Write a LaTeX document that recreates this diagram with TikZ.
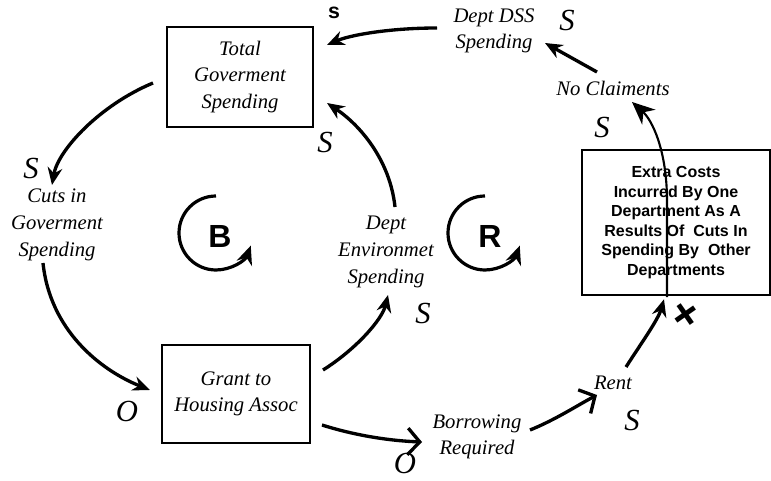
\documentclass[tikz,border=0pt]{standalone}
\usepackage{fontspec}
\setmainfont{Liberation Serif}
\newfontfamily\boxfont{Liberation Sans}
\usetikzlibrary{arrows.meta,calc}
\begin{document}
\begin{tikzpicture}[x=0.75pt,y=-0.75pt,
  lbl/.style={font=\fontsize{15.5}{20}\selectfont\itshape, align=center, inner sep=0pt},
  pol/.style={font=\fontsize{23}{23}\selectfont\itshape, inner sep=0pt},
  boxnode/.style={draw, line width=1.6pt, align=center, inner sep=0pt},
  conn/.style={line width=2.5pt, -{Stealth[length=13pt,width=11pt]}},
  openconn/.style={line width=2.5pt, -{Straight Barb[length=9pt,width=20pt,line width=2.5pt]}},
  looparc/.style={line width=2.4pt, -{Stealth[length=14pt,width=12pt]}},
  loopletter/.style={font=\boxfont\bfseries\fontsize{24}{24}\selectfont, inner sep=0pt}
]
\useasboundingbox (0,0) rectangle (771,481);

% nodes
\node[lbl, boxnode, minimum width=110pt, minimum height=75pt] (tgs) at (240,77) {Total\\Goverment\\Spending};
\node[lbl] (cuts) at (57,225) {Cuts in\\Goverment\\Spending};
\node[lbl, boxnode, minimum width=111pt, minimum height=73.5pt] (grant) at (236,394) {Grant to\\Housing Assoc};
\node[lbl] (env) at (386,252) {Dept\\Environmet\\Spending};
\node[lbl] (dss) at (494,31) {Dept DSS\\Spending};
\node[lbl] (noc) at (613,88) {No Claiments};
\node[boxnode, minimum width=141pt, minimum height=109pt, font=\boxfont\bfseries\fontsize{12}{14.6}\selectfont] (extra) at (676,222.5) {Extra Costs\\Incurred By One\\Department As A\\Results Of\ \ Cuts In\\Spending By\ \ Other\\Departments};
\node[lbl] (bor) at (477,437) {Borrowing\\Required};
\node[lbl] (rent) at (613,383) {Rent};

% polarity marks
\node[pol] (p1) at (31,168) {S};
\node[pol] (p2) at (325,142) {S};
\node[pol] (p3) at (423,313) {S};
\node[font=\boxfont\bfseries\fontsize{16}{16}\selectfont, inner sep=0pt] (p4) at (334,13) {s};
\node[pol] (p5) at (567,20) {S};
\node[pol] (p6) at (602,127) {S};
\node[font=\boxfont\bfseries\fontsize{34}{34}\selectfont, inner sep=0pt, rotate=35] (p7) at (687,316) {+};
\node[pol] (p8) at (632,420) {S};
\node[pol] (p9) at (405,463) {O};
\node[pol] (p10) at (127,411) {O};

% loop markers
\node[loopletter] (bl) at (220,236) {B};
\node[loopletter] (rl) at (490,236) {R};
\draw[looparc] ($(bl)+(-4,-40)$) arc[start angle=-90, end angle=-340, radius=37];
\draw[looparc] ($(rl)+(-5,-40)$) arc[start angle=-90, end angle=-340, radius=37];

% connectors
\draw[conn] ($(tgs)+(-87,6)$) .. controls (100,105) and (58,150) .. ($(cuts)+(-5,-40)$);
\draw[conn] ($(cuts)+(-14,38)$) .. controls (50,330) and (100,370) .. ($(grant)+(-86,-4)$);
\draw[conn] ($(grant)+(87,-24)$) .. controls (355,350) and (382,320) .. ($(env)+(2,43)$);
\draw[conn] ($(env)+(9,-45)$) .. controls (390,160) and (360,125) .. ($(tgs)+(87,26)$);
\draw[conn] ($(dss)+(-57,-3)$) .. controls (390,28) and (350,35) .. ($(tgs)+(87,-32)$);
\draw[conn] ($(noc)+(-16,-16)$) -- ($(dss)+(51,12)$);
\draw[openconn] ($(grant)+(86,31)$) .. controls (360,437) and (395,441) .. ($(bor)+(-55,5)$);
\draw[openconn] ($(bor)+(53,-7)$) .. controls (555,420) and (578,405) .. ($(rent)+(-16,12)$);
\draw[conn] ($(rent)+(13,-16)$) .. controls (640,345) and (658,320) .. ($(extra.south)+(-12,3)$);
\draw[line width=1.6pt, -{Stealth[length=17pt,width=15pt]}] ($(extra.south)+(-9,1)$) -- ($(extra.south)+(-9,-95)$) .. controls (667,150) and (652,120) .. ($(noc)+(19,14)$);
\end{tikzpicture}
\end{document}
